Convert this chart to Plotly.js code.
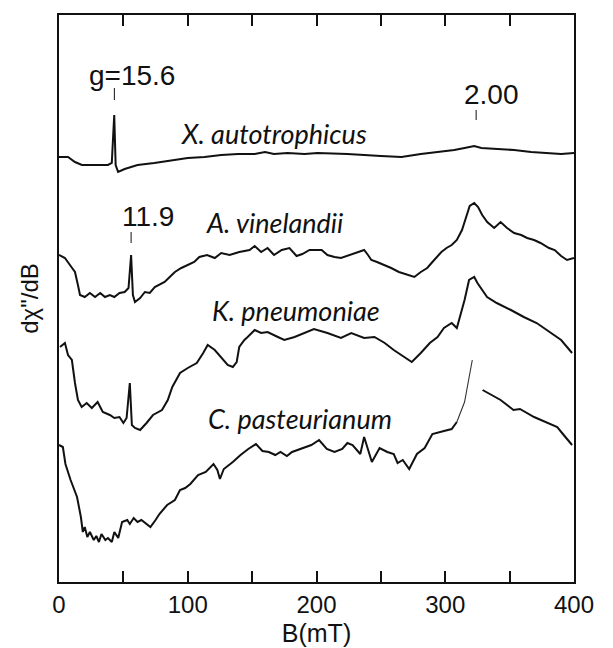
<!DOCTYPE html>
<html><head><meta charset="utf-8">
<script src="https://cdn.plot.ly/plotly-3.0.1.min.js"></script>
<style>html,body{margin:0;padding:0;background:#fff}</style>
</head><body><div id="chart" style="width:613px;height:648px"></div>
<script>
// Magnetic field B (mT) and EPR derivative signal (arbitrary units, spectra offset vertically)
const xautoB = [0, 2.3, 7, 12.4, 17.8, 28, 38, 41, 42.9, 44, 45.9, 51, 61, 74, 87.6, 100, 113, 126, 139, 152, 160, 167, 177.5, 190.7, 200.8, 224, 250, 266, 281, 297, 307, 315, 322.5, 328, 340, 353.5, 366.7, 379, 390, 400];
const xautoS = [425, 425, 425, 420, 417, 417, 417, 419, 467, 417, 410, 413, 417, 419, 422, 424, 425, 427, 428, 428, 430, 428, 429, 428, 429, 428, 426, 425, 428, 430, 432, 434, 436, 434, 433, 432, 430, 429, 428, 429];

const avinB = [0, 4.6, 8.5, 12.4, 14.7, 16.3, 20, 24, 28, 32, 35.7, 39.5, 43, 47, 51, 54, 56, 57.4, 59, 63, 66.7, 70.5, 74.4, 78, 82, 86, 90, 95, 100, 105, 109, 115, 121, 126, 132.5, 140, 148, 152, 157, 162, 167, 173, 179, 184.5, 189, 194.6, 200.8, 204, 208.5, 214, 219, 225.6, 232, 237, 240, 242.6, 247, 252.7, 258, 264, 270.5, 276, 281, 286, 290, 293, 297, 301, 305, 309, 313, 316, 319, 322.5, 325.5, 328.7, 332.6, 338, 343, 348, 353.5, 359, 363.6, 369, 374, 380.6, 385, 390, 394.6, 400];
const avinS = [327, 324, 317, 310, 297, 287, 285, 289, 285, 289, 285, 287, 285, 289, 290, 294, 327, 287, 280, 284, 290, 289, 295, 297, 300, 305, 310, 314, 317, 320, 325, 327, 324, 329, 327, 330, 332, 336, 330, 334, 327, 332, 334, 326, 328, 332, 332, 332, 327, 325, 324, 327, 330, 332, 327, 322, 320, 317, 314, 310, 307, 305, 310, 314, 320, 324, 330, 334, 337, 342, 352, 364, 376, 379, 375, 367, 360, 354, 360, 354, 349, 347, 344, 342, 339, 334, 332, 326, 322, 324];

const kpnB = [0.8, 4.6, 7, 10, 12.4, 14.7, 17.6, 21.5, 25.5, 30, 34, 39.5, 43, 47, 50, 52.5, 55, 56.6, 59, 63, 68, 73, 80, 84.5, 88, 94, 100, 107, 112, 115.5, 121, 126, 131, 135, 138, 140, 144, 146.5, 152, 157, 162, 170, 175, 183, 191, 198, 208.5, 219, 227, 237, 245, 253, 260, 268, 274, 281, 288, 294, 299, 305, 309, 315, 318.5, 322.5, 325, 332.5, 340, 351, 361, 371, 379, 390, 398.5];
const kpnS = [235, 239, 227, 222, 199, 182, 175, 179, 174, 180, 170, 167, 164, 165, 159, 164, 199, 157, 154, 152, 159, 167, 172, 182, 195, 209, 214, 219, 229, 237, 232, 225, 217, 215, 220, 235, 242, 245, 252, 249, 250, 245, 242, 245, 249, 253, 249, 244, 249, 244, 245, 239, 232, 225, 220, 229, 239, 245, 254, 259, 254, 282, 302, 305, 299, 285, 279, 272, 265, 259, 252, 242, 229];

const cpaB = [0, 3, 5, 9, 14, 17, 18.5, 20, 22, 24, 27, 29, 31, 33, 36, 38, 41, 43, 46, 49, 53, 55, 58, 61, 64, 68, 71, 75, 78, 84, 90, 94, 98, 102, 108, 114, 120, 123, 125, 128, 135, 141, 147, 153, 158, 163, 168, 172, 177, 181, 188, 196, 202, 208, 214, 220, 224, 228, 234, 237, 243, 249, 255, 260, 263, 267, 272, 278, 284, 290, 299, 305, 309, 315, 321, 325, 329, 332, 343, 353, 358, 369, 379, 387, 392, 398.5];
const cpaS = [137, 135, 118, 102, 85, 65, 50, 55, 45, 50, 42, 46, 40, 48, 42, 44, 40, 50, 44, 60, 62, 58, 64, 60, 62, 58, 55, 62, 68, 77, 82, 92, 94, 98, 107, 110, 118, 112, 103, 113, 120, 127, 133, 138, 131, 130, 127, 130, 126, 130, 133, 137, 142, 133, 130, 133, 139, 137, 128, 145, 120, 134, 130, 128, 119, 122, 113, 128, 134, 148, 151, 153, 160, 180, 222, null, 192, 190, 182, 172, 173, 165, 159, 155, 147, 137];

const xTickVals = [0, 50, 100, 150, 200, 250, 300, 350, 400];
const xTickText = ['0', '', '100', '', '200', '', '300', '', '400'];

// C. pasteurianum: the steep rise before the gap is drawn as a faint thin stroke in the original
const thinFrom = 309, thinTo = 321;
const cpaThick = cpaS.map((v, i) => (cpaB[i] > thinFrom && cpaB[i] <= thinTo) ? null : v);
const cpaThin = cpaS.map((v, i) => (cpaB[i] >= thinFrom && cpaB[i] <= thinTo) ? v : null);

const line = {color: '#111', width: 2};
const base = {type: 'scatter', mode: 'lines', connectgaps: false, hoverinfo: 'skip'};
const traces = [
  Object.assign({x: xautoB, y: xautoS, name: 'X. autotrophicus', line: line}, base),
  Object.assign({x: avinB, y: avinS, name: 'A. vinelandii', line: line}, base),
  Object.assign({x: kpnB, y: kpnS, name: 'K. pneumoniae', line: line}, base),
  Object.assign({x: cpaB, y: cpaThick, name: 'C. pasteurianum', line: line}, base),
  Object.assign({x: cpaB, y: cpaThin, name: 'C. pasteurianum (rise)', line: {color: '#333', width: 1.1}}, base)
];

const numFont = {family: 'Liberation Sans, Arial, sans-serif', size: 28, color: '#111'};
const spFont = {family: 'Lato, Open Sans, sans-serif', size: 27, color: '#111'};

function sp(text, x, y) {
  return {text: '<i>' + text + '</i>', x: x, y: y, xref: 'x', yref: 'y', showarrow: false, font: spFont};
}
function mark(x, y0, y1) {
  return {type: 'line', xref: 'x', yref: 'y', x0: x, x1: x, y0: y0, y1: y1, line: {color: '#111', width: 1}};
}

const layout = {
  width: 613, height: 648,
  margin: {l: 59, r: 39, t: 15, b: 66},
  paper_bgcolor: '#fff', plot_bgcolor: '#fff',
  showlegend: false,
  xaxis: {
    range: [0, 400], tickmode: 'array', tickvals: xTickVals, ticktext: xTickText,
    ticks: 'inside', ticklen: 11, tickwidth: 2, tickcolor: '#111',
    showline: true, linecolor: '#111', linewidth: 2, mirror: 'ticks',
    showgrid: false, zeroline: false,
    tickfont: {family: 'Liberation Sans, Arial, sans-serif', size: 24, color: '#111'},
    title: {text: 'B(mT)', font: {family: 'Liberation Sans, Arial, sans-serif', size: 25, color: '#111'}, standoff: 8}
  },
  yaxis: {
    range: [0, 567], showticklabels: false, ticks: '',
    showline: true, linecolor: '#111', linewidth: 2, mirror: true,
    showgrid: false, zeroline: false,
    title: {text: 'dχ"/dB', font: {family: 'Liberation Sans, Arial, sans-serif', size: 24, color: '#111'}, standoff: 12}
  },
  annotations: [
    {text: 'g=15.6', x: 56.6, y: 507, xref: 'x', yref: 'y', showarrow: false, font: numFont},
    {text: '2.00', x: 335.7, y: 488, xref: 'x', yref: 'y', showarrow: false, font: numFont},
    {text: '11.9', x: 69, y: 366, xref: 'x', yref: 'y', showarrow: false, font: numFont},
    sp('X. autotrophicus', 167, 449),
    sp('A. vinelandii', 167, 360),
    sp('K. pneumoniae', 184, 272),
    sp('C. pasteurianum', 187, 164)
  ],
  shapes: [
    mark(43, 482, 494),
    mark(324, 462, 472),
    mark(56, 339, 350)
  ]
};

Plotly.newPlot('chart', traces, layout, {displayModeBar: false, staticPlot: true});
</script>
</body></html>
